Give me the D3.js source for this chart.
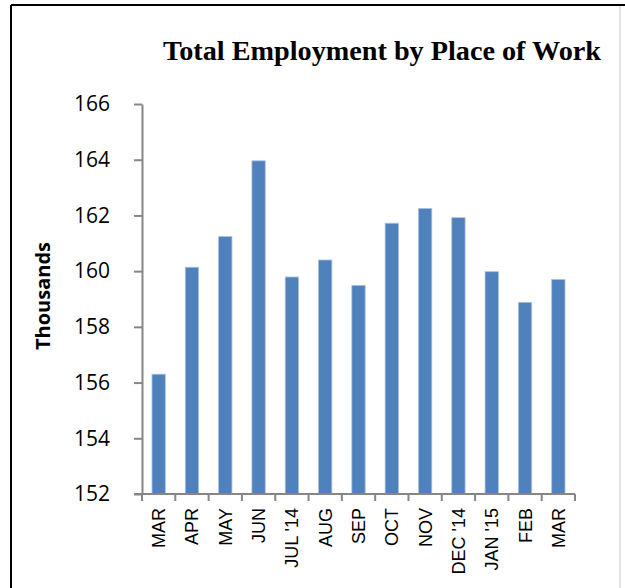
<!DOCTYPE html>
<html>
<head>
<meta charset="utf-8">
<script src="https://cdn.jsdelivr.net/npm/d3@7"></script>
<style>
    body { margin: 0; background: #fff; }
    .chart-title { font-family: "Liberation Serif", "Times New Roman", serif; font-weight: bold; font-size: 27px; }
    .y-axis text { font-family: "Open Sans", sans-serif; font-size: 21px; fill: #000; }
    .x-axis text { font-family: "Liberation Sans", Arial, sans-serif; font-size: 18px; fill: #000; }
    .axis path, .axis line { stroke: #868686; stroke-width: 2; }
    .y-label { font-family: "Open Sans", sans-serif; font-weight: bold; font-size: 20px; }
    .bar { fill: #4f81bd; stroke: #a9c1df; stroke-width: 0.8; }
</style>
</head>
<body>
<div id="chart"></div>
<script>
// Months on the x axis
const months = ["MAR", "APR", "MAY", "JUN", "JUL '14", "AUG", "SEP", "OCT", "NOV", "DEC '14", "JAN '15", "FEB", "MAR"];

// Total employment, thousands
const employment = [156.3, 160.14, 161.24, 163.96, 159.79, 160.4, 159.49, 161.72, 162.25, 161.92, 159.98, 158.88, 159.7];

// Y axis ticks
const yTicks = [152, 154, 156, 158, 160, 162, 164, 166];

const width_raw = 625,
    height_raw = 588;

const margin = {top: 104, right: 50, bottom: 94, left: 142};

let root = d3.select("#chart")
    .append("svg")
    .attr("width", width_raw)
    .attr("height", height_raw);

// Outer frame
root.append("line")
    .attr("x1", 11).attr("x2", 625).attr("y1", 5).attr("y2", 5)
    .attr("stroke", "#000").attr("stroke-width", 2);
root.append("line")
    .attr("x1", 11).attr("x2", 11).attr("y1", 5).attr("y2", 588)
    .attr("stroke", "#000").attr("stroke-width", 2);
root.append("line")
    .attr("x1", 620).attr("x2", 620).attr("y1", 6).attr("y2", 588)
    .attr("stroke", "#c8c8c8").attr("stroke-width", 1);

let svg = root.append("g")
    .attr("transform", `translate(${margin.left}, ${margin.top})`);

// Scales
let xScale = d3.scaleBand()
    .domain(d3.range(months.length))
    .range([0, 433])
    .paddingInner(0.6)
    .paddingOuter(0.3);

let yScale = d3.scaleLinear()
    .domain([152, 166])
    .range([390, 0]);

// Bars
svg.selectAll("rect.bar")
    .data(employment)
    .enter()
    .append("rect")
    .attr("class", "bar")
    .attr("x", (d, i) => xScale(i))
    .attr("y", d => yScale(d))
    .attr("width", xScale.bandwidth())
    .attr("height", d => yScale(152) - yScale(d));

// Y axis
let yAxis = d3.axisLeft(yScale)
    .tickValues(yTicks)
    .tickSize(8)
    .tickPadding(24)
    .tickSizeOuter(0)
    .tickFormat(d3.format("d"));

svg.append("g")
    .attr("class", "axis y-axis")
    .call(yAxis);

// X axis: ticks at band boundaries, labels at band centres
let step = 433 / months.length;
let xGroup = svg.append("g")
    .attr("class", "axis x-axis")
    .attr("transform", `translate(0, ${yScale(152)})`);

xGroup.append("line")
    .attr("x1", -8).attr("x2", 433);

xGroup.selectAll("line.tick")
    .data(d3.range(months.length + 1))
    .enter()
    .append("line")
    .attr("class", "tick")
    .attr("x1", d => d * step).attr("x2", d => d * step)
    .attr("y1", 0).attr("y2", 7);

xGroup.selectAll("text")
    .data(months)
    .enter()
    .append("text")
    .attr("text-anchor", "end")
    .attr("transform", (d, i) => `translate(${xScale(i) + xScale.bandwidth() / 2 + 6.5}, 14) rotate(-90)`)
    .text(d => d);

// Y axis label
root.append("text")
    .attr("class", "y-label")
    .attr("text-anchor", "middle")
    .attr("transform", "translate(50, 296) rotate(-90)")
    .text("Thousands");

// Title
root.append("text")
    .attr("class", "chart-title")
    .attr("x", 163)
    .attr("y", 60)
    .attr("textLength", 438)
    .attr("lengthAdjust", "spacingAndGlyphs")
    .text("Total Employment by Place of Work");
</script>
</body>
</html>
